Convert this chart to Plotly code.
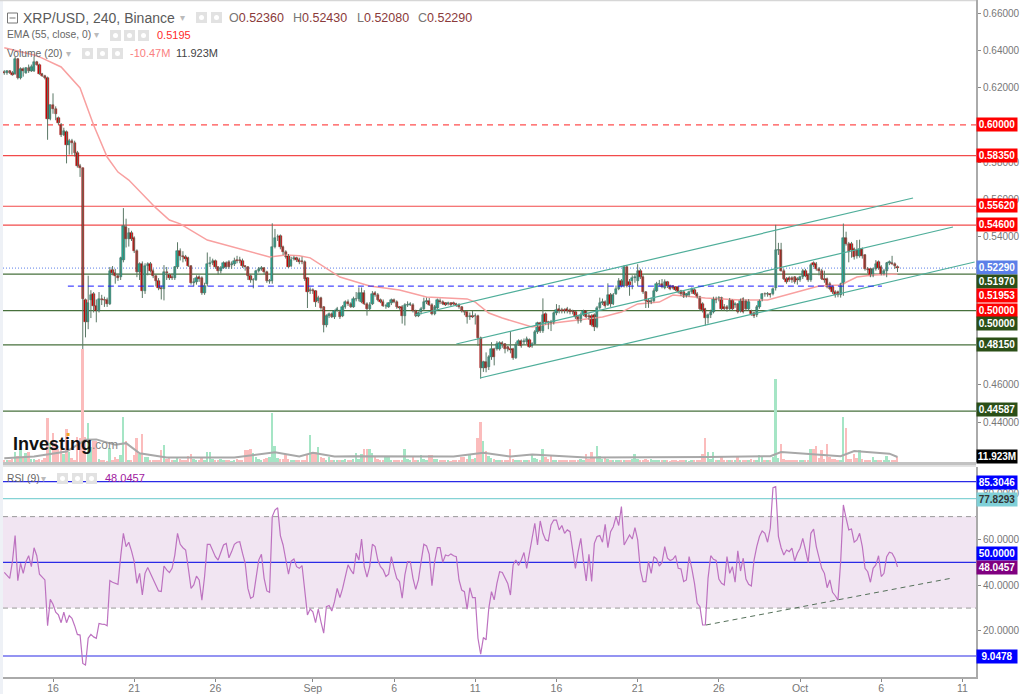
import pandas as pd
import plotly.graph_objects as go

# ---------- data (prices x 10000) ----------
OPEN = [
6285,6278,6290,6282,6275,6355,6255,6300,6280,6305,
6290,6290,6340,6325,6275,6265,6255,6030,6105,6085,
6036,6000,5946,5960,5892,5915,5905,5850,5780,5768,
5059,4937,5059,5090,5027,4998,5060,5057,5055,5035,
5220,5205,5188,5180,5270,5452,5385,5418,5390,5323,
5206,5250,5107,5242,5250,5215,5185,5160,5122,5115,
5210,5190,5180,5175,5233,5323,5296,5287,5283,5240,
5147,5155,5180,5178,5093,5143,5250,5255,5265,5233,
5212,5230,5255,5260,5245,5250,5272,5272,5268,5238,
5233,5188,5165,5165,5215,5225,5228,5206,5160,5160,
5345,5395,5402,5340,5313,5295,5242,5278,5283,5272,
5268,5263,5175,5103,5110,5103,5053,5068,5018,4920,
4973,4982,4965,5003,4990,4973,5018,5045,5035,5020,
5062,5062,5045,5095,5035,5008,5035,5093,5085,5057,
5048,5027,5021,5039,5057,5048,5018,5021,4973,5032,
5032,5028,5000,4973,4990,5008,5045,5053,5032,4982,
5014,5053,5045,5039,5035,5039,5039,5035,5032,5018,
4995,4990,4967,4973,4973,4973,4853,4689,4722,4695,
4748,4793,4793,4793,4824,4820,4802,4793,4793,4745,
4820,4835,4830,4830,4842,4811,4820,4883,4931,4888,
4982,4937,4937,4931,4985,5008,5003,5003,5008,5003,
4998,4990,4967,4945,4978,4996,4973,4973,4978,4910,
5014,5039,5045,5032,5086,5035,5090,5116,5161,5134,
5237,5152,5161,5176,5161,5212,5183,5098,5053,5048,
5053,5107,5143,5145,5123,5154,5130,5130,5125,5125,
5105,5100,5077,5082,5100,5112,5091,5073,5037,5010,
4961,4974,4992,5064,5064,5069,5022,5019,5010,5055,
5028,5033,5000,5064,5051,5010,4997,4987,4974,5019,
5064,5091,5091,5087,5091,5123,5324,5329,5216,5171,
5177,5177,5180,5171,5163,5180,5216,5193,5163,5256,
5252,5225,5216,5171,5171,5145,5127,5100,5100,5082,
5145,5392,5360,5360,5333,5329,5292,5333,5297,5225,
5225,5189,5225,5261,5234,5198,5213,5256,5256,5252,
5236]
CLOSE = [
6278,6290,6282,6270,6355,6255,6300,6290,6305,6290,
6310,6340,6325,6275,6265,6255,6030,6105,6085,6060,
6009,5946,5965,5892,5915,5905,5850,5780,5770,5062,
4937,5040,5086,5027,4996,5062,5057,5055,5035,5215,
5205,5188,5175,5283,5457,5385,5418,5385,5323,5206,
5250,5107,5242,5250,5215,5185,5160,5122,5115,5210,
5200,5177,5175,5233,5323,5296,5287,5278,5242,5147,
5155,5178,5170,5093,5135,5250,5255,5265,5233,5212,
5230,5255,5237,5233,5250,5268,5265,5268,5238,5233,
5188,5165,5165,5212,5225,5228,5206,5160,5160,5340,
5390,5395,5340,5313,5290,5237,5272,5283,5272,5263,
5263,5170,5098,5110,5103,5045,5068,5014,4920,4973,
4982,4965,4996,5008,4967,5018,5045,5035,5022,5062,
5062,5095,5095,5035,5008,5032,5090,5085,5057,5048,
5027,5027,5039,5057,5048,5018,5014,4973,5032,5032,
5035,5000,4973,4985,5008,5045,5053,5032,4982,5018,
5057,5045,5035,5032,5039,5032,5035,5028,5018,5000,
4990,4964,4973,4967,4973,4853,4689,4722,4689,4748,
4793,4748,4820,4824,4820,4793,4793,4790,4745,4817,
4835,4811,4838,4847,4806,4820,4883,4931,4888,4978,
4937,4931,4928,4985,5003,4996,4996,4996,4996,4990,
4990,4967,4942,4978,4996,4967,4967,4924,4910,5014,
5039,5045,5027,5086,5035,5086,5116,5158,5134,5237,
5134,5140,5176,5179,5212,5183,5098,5050,5045,5050,
5107,5143,5143,5127,5154,5130,5118,5123,5112,5100,
5091,5073,5087,5100,5118,5091,5073,5010,5001,4961,
4974,4992,5064,5058,5069,5010,5010,5010,5058,5010,
5033,4992,5058,4992,5010,5046,4983,4969,5019,5051,
5091,5087,5091,5082,5118,5324,5329,5216,5171,5154,
5166,5163,5154,5163,5180,5213,5189,5163,5243,5243,
5225,5213,5171,5163,5127,5118,5100,5082,5082,5141,
5392,5360,5315,5324,5288,5292,5333,5292,5225,5220,
5189,5225,5252,5231,5198,5213,5256,5261,5252,5238,
5229]
HIGH = [
6295,6295,6295,6290,6368,6360,6310,6310,6312,6325,
6325,6368,6345,6330,6280,6270,6260,6110,6170,6100,
6045,6010,5985,5970,5925,5925,5915,5860,5790,5770,
5065,5188,5110,5100,5060,5100,5085,5075,5070,5235,
5240,5225,5200,5290,5552,5495,5445,5430,5400,5330,
5260,5265,5255,5260,5262,5225,5195,5175,5135,5245,
5235,5200,5200,5240,5368,5335,5320,5300,5290,5245,
5175,5190,5190,5185,5150,5313,5290,5280,5275,5240,
5240,5265,5265,5272,5265,5285,5295,5290,5280,5245,
5240,5195,5175,5220,5235,5240,5235,5215,5170,5470,
5440,5410,5410,5350,5325,5305,5290,5295,5290,5285,
5290,5270,5180,5125,5120,5110,5080,5075,5025,4980,
4990,4990,5005,5020,5005,5030,5055,5060,5045,5075,
5100,5125,5125,5110,5045,5045,5105,5105,5095,5065,
5060,5035,5045,5065,5065,5055,5025,5030,5040,5050,
5045,5040,5005,4995,5020,5070,5070,5068,5040,5030,
5065,5065,5055,5045,5048,5045,5048,5042,5040,5025,
5000,4995,4990,4998,4985,4978,4860,4730,4775,4760,
4830,4800,4835,4835,4835,4825,4810,4890,4800,4830,
4845,4845,4850,4860,4850,4830,4895,4940,4940,5066,
4990,4945,4950,4995,5035,5030,5015,5012,5020,5012,
5005,4998,4975,4990,5005,5002,4985,4980,4985,5025,
5070,5065,5055,5147,5095,5095,5135,5175,5170,5245,
5245,5170,5190,5195,5250,5225,5190,5105,5065,5070,
5120,5155,5165,5170,5168,5160,5140,5135,5132,5130,
5112,5105,5095,5108,5125,5120,5100,5080,5045,5015,
4985,5005,5075,5075,5078,5075,5035,5030,5068,5060,
5045,5040,5065,5072,5060,5062,5005,4995,5030,5060,
5095,5098,5100,5095,5125,5462,5365,5365,5225,5180,
5185,5185,5185,5180,5188,5225,5225,5200,5255,5265,
5262,5235,5225,5215,5178,5155,5135,5110,5108,5150,
5469,5425,5370,5370,5340,5380,5382,5340,5305,5235,
5230,5232,5272,5270,5245,5225,5262,5270,5295,5260,
5243]
LOW = [
6270,6270,6275,6265,6270,6245,6245,6260,6275,6280,
6285,6285,6320,6270,6258,6245,5920,6025,6060,6025,
6000,5935,5940,5793,5840,5840,5830,5770,5720,4305,
4856,4900,4960,4990,4937,4990,5030,5020,5020,5030,
5190,5145,5160,5165,5260,5340,5345,5375,5310,5180,
5165,5068,5090,5190,5205,5175,5130,5110,5060,5055,
5165,5165,5165,5165,5225,5270,5260,5265,5235,5140,
5130,5140,5155,5085,5085,5130,5235,5245,5225,5195,
5200,5225,5225,5225,5225,5240,5255,5255,5230,5215,
5165,5150,5120,5160,5205,5215,5195,5150,5145,5145,
5335,5375,5330,5300,5280,5230,5235,5270,5262,5250,
5250,5160,5014,5090,5090,5020,5040,5005,4883,4910,
4960,4960,4955,4995,4955,4965,5010,5025,5015,5015,
5050,5050,5040,5030,4973,5000,5030,5075,5050,5040,
5020,5010,5015,5030,5040,5010,5005,4930,4920,5020,
5025,4990,4965,4965,4980,5000,5035,5025,4975,4975,
5005,5035,5030,5025,5028,5025,5028,5020,5010,4990,
4975,4930,4950,4960,4925,4810,4634,4670,4668,4680,
4735,4705,4785,4785,4800,4770,4780,4770,4735,4740,
4810,4800,4815,4820,4800,4800,4815,4875,4880,4880,
4925,4900,4890,4925,4975,4985,4985,4985,4985,4980,
4980,4955,4930,4935,4970,4960,4950,4915,4890,4905,
5005,5030,5015,5025,5020,5030,5085,5110,5125,5125,
5125,5080,5115,5150,5130,5170,5090,5014,5015,5035,
5045,5100,5130,5120,5115,5122,5110,5115,5105,5092,
5080,5068,5070,5075,5090,5085,5065,5000,4990,4920,
4930,4960,4985,5040,5050,5000,5000,4995,5000,5000,
5015,4985,4990,4985,5000,5000,4972,4960,4965,5010,
5050,5075,5075,5070,5082,5108,5300,5210,5165,5145,
5155,5150,5145,5140,5155,5170,5180,5155,5155,5235,
5215,5190,5165,5150,5120,5110,5090,5070,5072,5070,
5080,5350,5260,5285,5275,5280,5285,5280,5215,5200,
5180,5180,5215,5220,5190,5190,5180,5245,5245,5225,
5208]
VOLUME = [
4,4,5,8,25,15,30,12,22,25,
8,6,5,6,5,10,105,45,70,45,
30,32,20,80,25,10,5,60,58,271,
60,93,35,50,50,8,3,3,2,33,
5,13,8,17,107,49,5,3,16,57,
18,67,13,13,4,3,3,4,29,40,
8,9,4,3,9,6,3,3,14,19,
6,4,4,12,3,25,25,8,5,3,
8,4,3,3,2,5,8,4,5,28,
28,30,22,12,6,4,6,10,13,117,
38,10,6,8,18,6,4,4,4,3,
3,4,16,65,25,25,37,13,10,4,
13,5,4,4,3,5,6,4,4,6,
22,6,19,30,30,30,22,15,8,5,
4,11,11,3,3,3,3,3,30,6,
3,11,4,3,16,6,3,16,16,6,
8,3,3,4,3,2,3,3,4,11,
13,6,19,8,10,58,95,50,26,14,
9,8,5,4,4,3,3,30,6,5,
4,4,4,3,5,18,10,6,5,30,
11,6,14,5,3,4,3,3,4,3,
3,3,4,6,5,18,8,25,10,38,
14,8,11,6,5,4,5,4,3,4,
4,5,6,18,8,4,5,6,4,8,
5,3,4,3,3,4,2,3,3,2,
3,4,3,2,3,3,4,5,20,58,
24,8,24,5,4,13,5,3,4,3,
4,12,4,5,4,5,6,5,5,16,
12,5,4,3,12,198,10,44,8,5,
4,3,3,4,4,5,3,4,30,30,
38,10,28,8,44,12,8,6,5,4,
108,82,8,6,20,10,28,6,4,5,
4,12,5,4,5,4,14,5,3,4,
11.9]
RSI = [
45.6,44.5,43,50.3,61.7,42,49.6,45.2,50.3,52.9,
48.1,56.4,52.9,44.8,43.3,42.3,22.3,33.8,31.7,28.2,
27,23.6,28.2,23.6,26.7,25.5,22.3,18.5,18.2,5.8,
5.1,16.8,18.5,17.4,16.8,23.3,23,22.9,22.3,42,
41.3,41,40.4,52.5,62.7,56.9,58.8,55,50.3,40.8,
45.2,35.7,45.2,47.7,45.2,43,40.1,37.5,37.2,48.4,
46.7,45.5,47.4,53.2,62.7,57.9,56.4,55.4,47.4,38.6,
40.1,44,42.3,33.5,43.8,57.9,57.9,55.4,52.5,51,
54.4,57.6,58.3,52,54.7,57.9,58.8,59,54,49.6,
38.6,34.3,35,43,51,53.5,43,37.5,36.9,70,
72.9,73.9,61.7,57.6,51.8,44.8,50.6,51.5,48.1,47.4,
48.6,38.6,27,29.6,28.4,23.6,29.6,24,19,30.6,
31.1,28.7,32.8,38.6,
34.6,38.6,44.5,48.9,46.7,44.9,54,51,60.2,48.1,
43.5,48.1,57.9,56.9,51,48.1,46.7,43.8,44.8,52.5,
47.4,43,41.6,34.3,44.5,50.3,50.3,43,38.2,42.3,
50.3,57.9,57.2,53.5,39.8,50.3,56.4,56.4,50,53.2,
52.8,53.7,52.9,52.5,42.3,37.9,37.2,29.5,38.9,34.6,
34.6,16.8,9.8,17.1,16.1,29.9,37.2,33.6,40.8,45.9,
45.6,43,40.8,35.7,48.9,51,48.6,51,54.3,47.4,
54,61.3,67.1,57.6,68.1,62.7,59.8,59.4,66.4,68.5,
68.5,64.2,66.1,62.7,64.2,63.4,54.7,47.4,54.7,60.5,
50.3,41.9,53.5,41.6,58.3,61.3,61.7,58.8,66.6,56.4,
63.4,65.6,70,66.1,74.4,57.6,59.8,62,60.2,65.2,
59.8,46.7,41.6,41.6,50.3,45.2,52.5,51.5,48.4,
49.9,56.9,51.8,50.8,51.3,52.9,47.4,47.1,41.6,42.3,
52.5,47.4,40.8,32.1,30.6,22.6,22.6,43,52.9,
51.3,50.8,42.7,40.8,40.1,52.5,45.2,48.1,41.3,55,
46.2,51.8,42.7,40.4,39.7,51,56.9,61.3,63.7,62.7,
58.8,64.9,82.7,83.1,61.3,56.4,53.2,55.4,54.7,56.2,
50.6,54,56.2,60.5,55.4,49.9,62.7,64.6,56.9,52.5,
47.4,45.2,38.9,42.3,36.9,35.4,33.5,50.3,75.1,69.3,
64.2,64.6,58.8,59.8,62.7,56.9,47.4,45.9,41.3,47.4,
48.9,52.9,43.8,45.2,52.5,54.4,54,51.8,48]
EMA_IDX = [0,11,14,21,28,33,38,42,46,52,56,61,65,75,84,98,104,109,113,124,135,146,156,171,174,179,184,195,203,215,221,228,234,242,247,259,272,282,286,301,309,315,321,330]
EMA_VAL = [6416,6377,6360,6312,6199,6000,5827,5746,5703,5612,5553,5488,5467,5380,5343,5289,5300,5295,5284,5181,5133,5111,5074,5063,5046,4987,4960,4912,4933,4955,4966,4992,5036,5046,5084,5068,5057,5057,5073,5132,5138,5181,5192,5197]
VOLMA_IDX = [0,11,23,30,34,41,45,50,60,85,100,109,114,122,129,166,177,187,195,215,260,283,287,309,314,327,330]
VOLMA_VAL = [9,13,25,53,54,41,45,21,11,11,23,13,22,13,14,13,22,13,18,11,12,14,24,14,26,20,12]

START = "2018-08-13 00:00"
TICK_DATES = ["2018-08-16","2018-08-21","2018-08-26","2018-09-01","2018-09-06","2018-09-11","2018-09-16","2018-09-21","2018-09-26","2018-10-01","2018-10-06","2018-10-11"]
TICK_TEXT = ["16","21","26","Sep","6","11","16","21","26","Oct","6","11"]
PRICE_TICKS = [0.66,0.64,0.62,0.60,0.58,0.56,0.54,0.52,0.50,0.48,0.46,0.44,0.42]
PRICE_TICK_TEXT = ["0.66000","0.64000","0.62000","","0.58000","0.56000","0.54000","","","","0.46000","0.44000",""]
RSI_TICKS = [80,60,40,20]
RSI_TICK_TEXT = ["80.0000","60.0000","40.0000","20.0000"]
RED_LEVELS = [0.5835,0.5562,0.5460]
GREEN_LEVELS = [0.5197,0.5000,0.4815,0.44587]
CHANNEL_X = [["2018-09-07 07:00","2018-10-07 23:00"],["2018-09-09 20:00","2018-10-10 10:00"],["2018-09-11 07:00","2018-10-11 18:00"]]
CHANNEL_Y = [[0.49764,0.56065],[0.48203,0.54503],[0.46371,0.52618]]
RSI_TREND_X = ["2018-09-25 05:00","2018-10-10 10:00"]
RSI_TREND_Y = [22.6,43.2]
BLUE_DASH_X = ["2018-08-16 22:00","2018-10-06 01:00"]
BLUE_DASH_Y = [0.5132,0.5132]
PRICE_LABELS = [("0.60000",124.5,"#ff0000","white"),("0.58350",155.5,"#ff0000","white"),("0.55620",206,"#ff0000","white"),
    ("0.54600",225,"#ff0000","white"),("0.52290",267.5,"#5b7fe8","white"),("0.51970",281.5,"#2b4f17","white"),
    ("0.51953",295.5,"#ff0000","white"),("0.50000",310,"#ff0000","white"),("0.50000",324,"#2b4f17","white"),
    ("0.48150",344.5,"#2b4f17","white"),("0.44587",410,"#2b4f17","white"),("11.923M",456.5,"#000000","white"),
    ("85.3046",482.5,"#0000ff","white"),("77.8293",499,"#80d0d8","#333333"),("50.0000",553.5,"#0000ff","white"),
    ("48.0457",567.5,"#800080","white"),("9.0478",656,"#0000ff","white")]

for a in (OPEN, CLOSE, HIGH, LOW, VOLUME, RSI):
    if len(a) != len(OPEN):
        raise SystemExit(f"lengths {[len(b) for b in (OPEN,CLOSE,HIGH,LOW,VOLUME,RSI)]}")

# ---------- figure geometry ----------
W, H, PL, PR, PB = 1024, 694, 3, 48, 17
PW, PH = W - PL - PR, H - PB
px = lambda x: (x - PL) / PW
py = lambda y: 1 - y / PH

dates = pd.date_range(START, periods=len(OPEN), freq="4h")
at = lambda idxs: [pd.Timestamp(START) + pd.Timedelta(hours=4 * i) for i in idxs]
p = lambda a: [v / 10000 for v in a]
FOUR_H = 4 * 3600 * 1000
FONT = "Liberation Sans"

fig = go.Figure()

# volume
up = [c >= o for o, c in zip(OPEN, CLOSE)]
fig.add_trace(go.Bar(x=dates, y=VOLUME, yaxis="y3", width=FOUR_H * 0.72,
                     marker=dict(color=["#a5e5c5" if u else "#fbbcbc" for u in up], line_width=0), hoverinfo="skip"))
fig.add_trace(go.Scatter(x=at(VOLMA_IDX), y=VOLMA_VAL, yaxis="y3", mode="lines",
                         line=dict(color="#a8a8a8", width=2), hoverinfo="skip"))

# EMA
fig.add_trace(go.Scatter(x=at(EMA_IDX), y=p(EMA_VAL), mode="lines", line=dict(color="#f8a0a0", width=1.5), hoverinfo="skip"))

# wicks
wx, wy = [], []
for d, h, l in zip(dates, HIGH, LOW):
    wx += [d, d, None]
    wy += [h / 10000, l / 10000, None]
fig.add_trace(go.Scatter(x=wx, y=wy, mode="lines", line=dict(color="#5b7866", width=1), hoverinfo="skip"))

# bodies
fig.add_trace(go.Bar(x=dates, y=[abs(c - o) / 10000 for o, c in zip(OPEN, CLOSE)],
                     base=[min(o, c) / 10000 for o, c in zip(OPEN, CLOSE)],
                     width=FOUR_H * 0.85, hoverinfo="skip",
                     marker=dict(color=["#1cb8a4" if u else "#d00000" for u in up],
                                 line=dict(color=["#24584f" if u else "#8a0c0c" for u in up], width=0.5))))

# channels
for cx, cy in zip(CHANNEL_X, CHANNEL_Y):
    fig.add_trace(go.Scatter(x=cx, y=cy, mode="lines", line=dict(color="#4fae9a", width=1.2), hoverinfo="skip"))
fig.add_trace(go.Scatter(x=BLUE_DASH_X, y=BLUE_DASH_Y, mode="lines",
                         line=dict(color="#1a1aff", width=1, dash="6px,4px"), hoverinfo="skip"))

# RSI
fig.add_trace(go.Scatter(x=dates, y=RSI, yaxis="y2", mode="lines", line=dict(color="#bd72c0", width=1.2), hoverinfo="skip"))
fig.add_trace(go.Scatter(x=RSI_TREND_X, y=RSI_TREND_Y, yaxis="y2", mode="lines",
                         line=dict(color="#55705a", width=1, dash="5px,4px"), hoverinfo="skip"))

shapes = []
def hline(v, color, width=1, dash="solid", yref="y"):
    shapes.append(dict(type="line", xref="paper", x0=0, x1=1, yref=yref, y0=v, y1=v, layer="below",
                       line=dict(color=color, width=width, dash=dash)))

hline(0.60, "#ff2020", 1, "6px,5px")
for v in RED_LEVELS:
    hline(v, "#f24a4a", 1.2)
for v in GREEN_LEVELS:
    hline(v, "#47703c", 1.2)
hline(0.5229, "#5b7fe8", 1, "1px,2px")
shapes.append(dict(type="rect", xref="paper", x0=0, x1=1, yref="y2", y0=30, y1=70, layer="below",
                   fillcolor="#f1e5f2", line_width=0))
hline(70, "#9a9a9a", 1, "5px,4px", "y2")
hline(30, "#9a9a9a", 1, "5px,4px", "y2")
hline(85.3046, "#2a2ae6", 1.2, "solid", "y2")
hline(77.8293, "#85d3d5", 1.2, "solid", "y2")
hline(50, "#2a2ae6", 1.2, "solid", "y2")
hline(9.0478, "#2a2ae6", 1.2, "solid", "y2")

# frame strips and pane separator
def prect(x0, y0, x1, y1, color, layer="above", line=None):
    shapes.append(dict(type="rect", xref="paper", yref="paper", x0=px(x0), x1=px(x1), y0=py(y0), y1=py(y1),
                       fillcolor=color, layer=layer, line=line or dict(width=0)))
prect(0, 0, 3, 694, "#eef1f6")
prect(0, 0, 976, 1.2, "#d6d6d6")
prect(3, 462, 976, 465.5, "#c2c2c2")
prect(3, 466, 976, 467, "#e4e4e4")

# legend icon boxes
for bx, by in [(196, 12), (211, 12), (110, 30), (124, 30), (138, 30), (82, 48), (97, 48), (112, 48), (57, 473), (72, 473), (86, 473)]:
    prect(bx, by, bx + 11, by + 11, "#e2e2e2")
    shapes.append(dict(type="circle", xref="paper", yref="paper", x0=px(bx + 3), x1=px(bx + 8),
                       y0=py(by + 3), y1=py(by + 8), fillcolor="#ffffff", line_width=0, layer="above"))
prect(7.5, 13, 17.5, 23, "rgba(0,0,0,0)", line=dict(color="#777777", width=1))
shapes.append(dict(type="line", xref="paper", yref="paper", x0=px(9.5), x1=px(15.5), y0=py(18), y1=py(18),
                   line=dict(color="#777777", width=1), layer="above"))

ann = []
def txt(x, y, s, size=11, color="#666666", bold=False, family=FONT, anchor="left"):
    ann.append(dict(xref="paper", yref="paper", x=px(x), y=py(y), xanchor=anchor, yanchor="middle",
                    text=f"<b>{s}</b>" if bold else s, showarrow=False, borderpad=0, borderwidth=0,
                    font=dict(family=family, size=size, color=color)))

txt(23, 17.5, "XRP/USD, 240, Binance", 14, "#5a5a5a")
for x, k, v in [(229, "O", "0.52360"), (293, "H", "0.52430"), (357, "L", "0.52080"), (418, "C", "0.52290")]:
    txt(x, 17.5, f'<span style="color:#777777">{k}</span>{v}', 12.5, "#8a3a3a")
txt(7, 35, "EMA (55, close, 0)", 10.3, "#666666")
txt(157, 35, "0.5195", 11, "#ff2a2a")
txt(7, 53, "Volume (20)", 10.3, "#666666")
txt(130, 53, "-10.47M", 11, "#fa8080")
txt(176, 53, "11.923M", 11, "#444444")
txt(7, 478, "RSI (9)", 10.3, "#666666")
txt(105, 478, "48.0457", 11, "#a020a0")
for x, y in [(94, 35), (66, 53), (180, 17.5), (41, 478)]:
    txt(x, y, "▾", 10, "#bbbbbb")

txt(13, 443.5, "Investing", 18, "#111111", True)
txt(92, 445, ".com", 12, "#8a8a8a")
prect(66.5, 433, 69.5, 436, "#f5a623")

for s, y, bg, fg in PRICE_LABELS:
    ann.append(dict(xref="paper", yref="paper", x=px(976), y=py(y), xanchor="left", yanchor="middle",
                    text=f"<b>{s}</b>", showarrow=False, bgcolor=bg, borderpad=1,
                    font=dict(family=FONT, size=10, color=fg), width=38, height=11, align="center"))

fig.update_layout(
    width=W, height=H, autosize=False, showlegend=False, barmode="overlay", bargap=0,
    paper_bgcolor="white", plot_bgcolor="white",
    margin=dict(l=PL, r=PR, t=0, b=PB, pad=0, autoexpand=False),
    font=dict(family=FONT, size=11, color="#777777"),
    shapes=shapes, annotations=ann,
    xaxis=dict(domain=[0, 1], anchor="y2", type="date",
               range=["2018-08-12 22:06", "2018-10-11 20:00"],
               tickmode="array", tickvals=TICK_DATES, ticktext=TICK_TEXT,
               showgrid=False, zeroline=False, showline=True, linecolor="#aaaaaa", linewidth=2,
               ticks="outside", ticklen=3, tickcolor="#888888", ticklabelstandoff=-3,
               tickfont=dict(family=FONT, size=10.5, color="#777777"), rangeslider=dict(visible=False)),
    yaxis=dict(domain=[1 - 462 / PH, 1], range=[0.41848, 0.66727], side="right", anchor="x",
               tickmode="array", tickvals=PRICE_TICKS, ticktext=PRICE_TICK_TEXT,
               showgrid=False, zeroline=False, showline=True, linecolor="#aaaaaa", linewidth=2,
               ticks="outside", ticklen=3, tickcolor="#888888",
               tickfont=dict(family=FONT, size=10, color="#777777")),
    yaxis2=dict(domain=[0, 1 - 467 / PH], range=[-0.14, 91.7], side="right", anchor="x",
                tickmode="array", tickvals=RSI_TICKS, ticktext=RSI_TICK_TEXT,
                showgrid=False, zeroline=False, showline=True, linecolor="#aaaaaa", linewidth=2,
                ticks="outside", ticklen=3, tickcolor="#888888",
                tickfont=dict(family=FONT, size=10, color="#777777")),
    yaxis3=dict(overlaying="y", range=[0, 1104], visible=False, side="left", anchor="x"),
)

fig.write_html("out.html", config=dict(displayModeBar=False),
               post_script="document.body.style.margin='0';document.body.style.overflow='hidden';")
